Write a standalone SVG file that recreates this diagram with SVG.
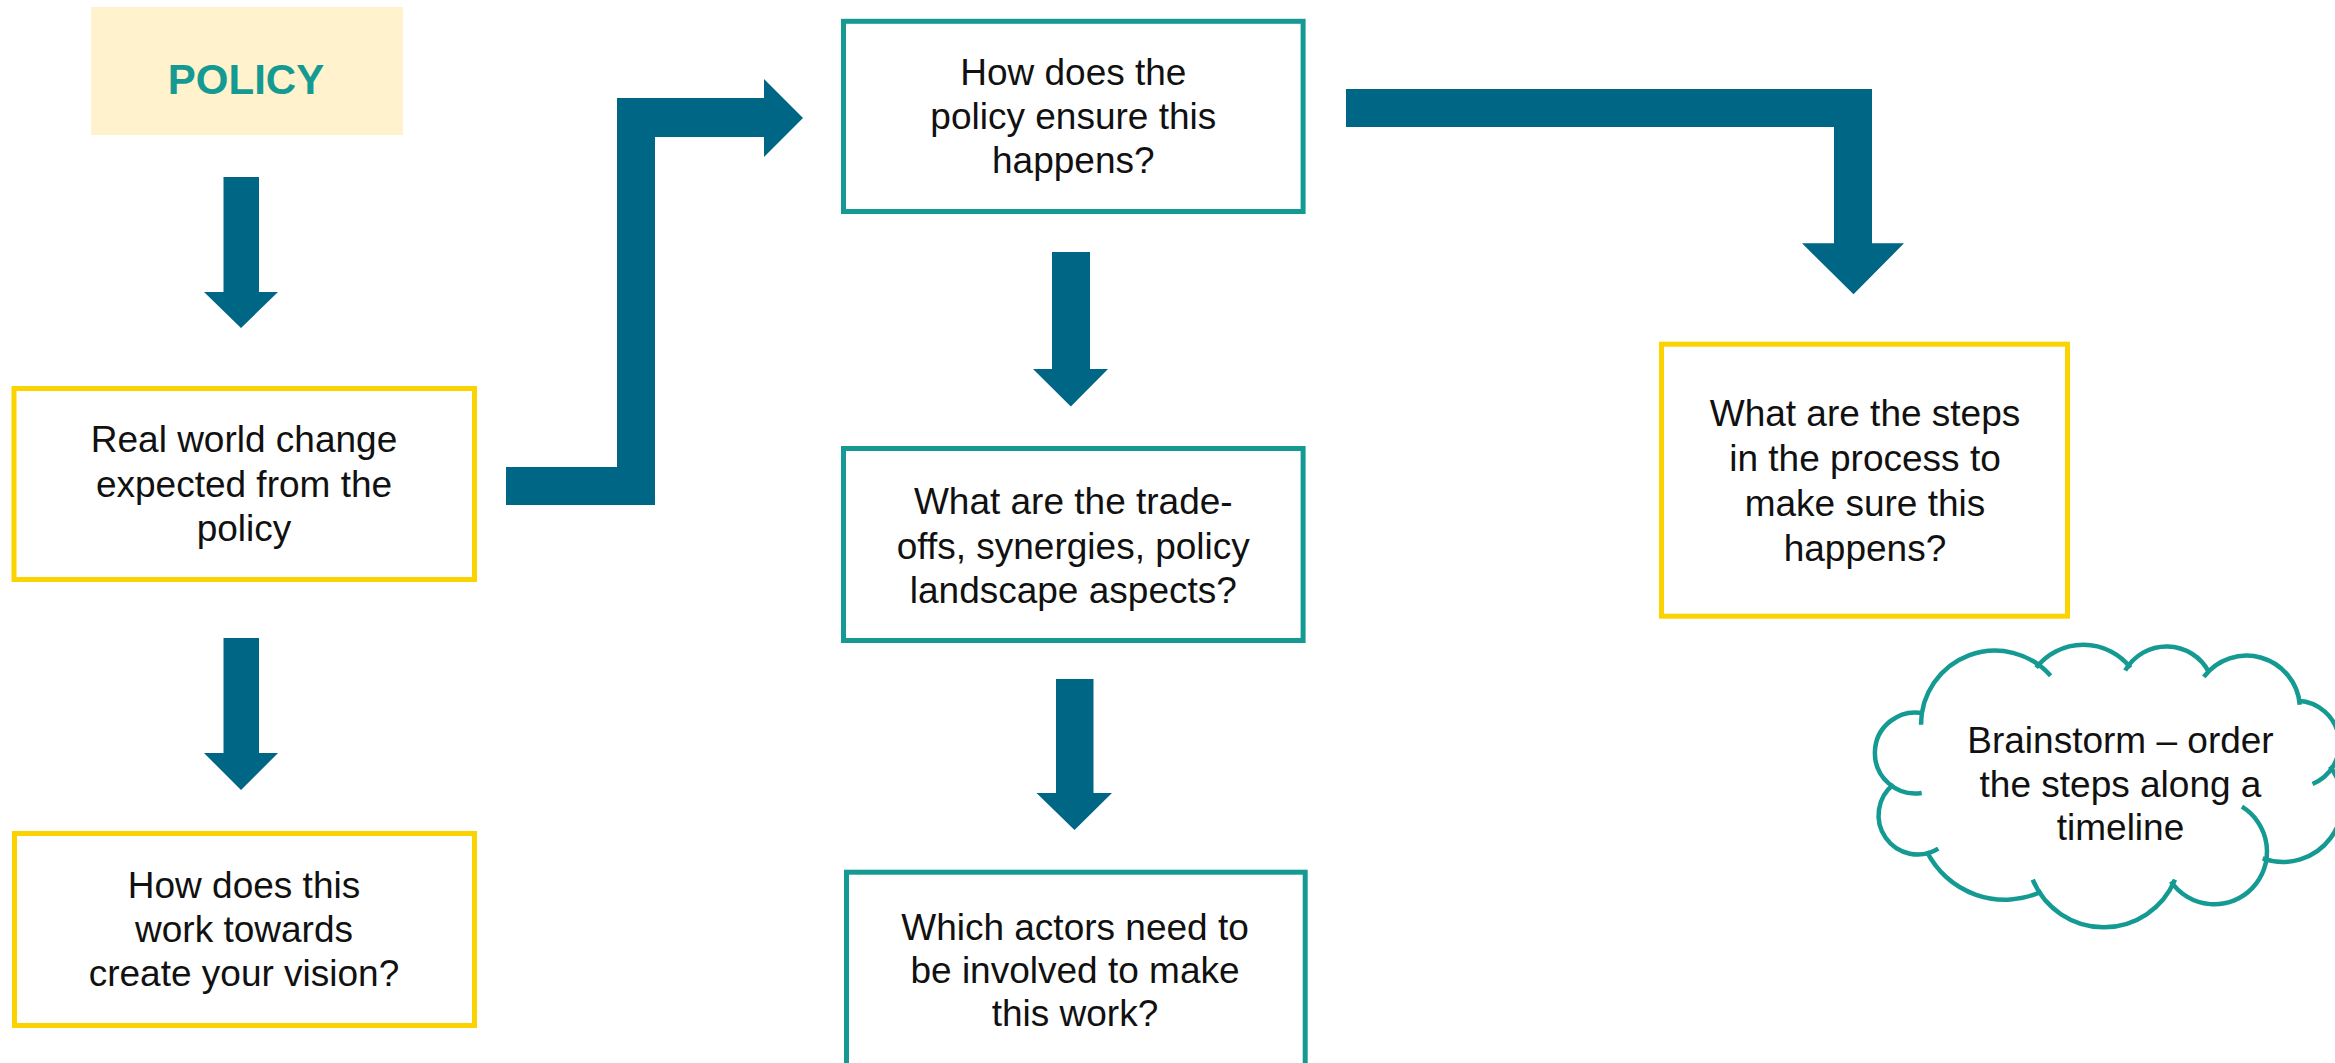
<svg xmlns="http://www.w3.org/2000/svg" width="2335" height="1063" viewBox="0 0 2335 1063">
<style>
.box{fill:#FFFFFF;stroke-width:5}
.yb{stroke:#FBD300}
.tb{stroke:#149A92}
.t{font-family:"Liberation Sans",Arial,sans-serif;font-size:37px;fill:#111111;text-anchor:middle}
.arrow{fill:#006685;stroke:none}
.cloud{fill:none;stroke:#149A92;stroke-width:4.5}
</style>
<rect width="2335" height="1063" fill="#FFFFFF"/>
<g id="connectors">
<path class="arrow" d="M223.5,177 H259 V292 H278 L241,328 L204,292 H223.5 Z"/>
<path class="arrow" d="M223.5,638 H259 V753 H278 L241,790 L204,753 H223.5 Z"/>
<path class="arrow" d="M506,467 H617 V98 H764 V79 L803,118 L764,157 V137 H655 V505 H506 Z"/>
<path class="arrow" d="M1052,252 H1090 V369 H1108 L1070.8,406.5 L1033,369 H1052 Z"/>
<path class="arrow" d="M1056,679 H1093.5 V793 H1112 L1074.5,830 L1036.5,793 H1056 Z"/>
<path class="arrow" d="M1346,89 H1872 V243.3 H1904 L1853.5,294.3 L1802,243.3 H1834 V127 H1346 Z"/>
</g>
<g id="node-policy">
<rect x="91" y="7" width="312" height="128" fill="#FFF2CC"/>
<text x="246" y="94" font-family="Liberation Sans, Arial, sans-serif" font-size="42" font-weight="bold" fill="#149A92" text-anchor="middle">POLICY</text>
</g>
<g id="node-realworld">
<rect class="box yb" x="14" y="388.5" width="460.5" height="191"/>
<text class="t"><tspan x="244" y="452">Real world change</tspan><tspan x="244" y="497">expected from the</tspan><tspan x="244" y="541">policy</tspan></text>
</g>
<g id="node-vision">
<rect class="box yb" x="14.5" y="833.5" width="460" height="192"/>
<text class="t"><tspan x="244" y="898">How does this</tspan><tspan x="244" y="942">work towards</tspan><tspan x="244" y="986">create your vision?</tspan></text>
</g>
<g id="node-ensure">
<rect class="box tb" x="843.5" y="21.3" width="459.6" height="190.2"/>
<text class="t"><tspan x="1073.3" y="85">How does the</tspan><tspan x="1073.3" y="129">policy ensure this</tspan><tspan x="1073.3" y="173">happens?</tspan></text>
</g>
<g id="node-tradeoffs">
<rect class="box tb" x="843.5" y="448.5" width="459.6" height="192"/>
<text class="t"><tspan x="1073.3" y="514">What are the trade-</tspan><tspan x="1073.3" y="558.5">offs, synergies, policy</tspan><tspan x="1073.3" y="603">landscape aspects?</tspan></text>
</g>
<g id="node-actors">
<rect class="box tb" x="846.5" y="872.2" width="458.7" height="200"/>
<text class="t"><tspan x="1075" y="939.5">Which actors need to</tspan><tspan x="1075" y="983">be involved to make</tspan><tspan x="1075" y="1026">this work?</tspan></text>
</g>
<g id="node-steps">
<rect class="box yb" x="1661.5" y="344.2" width="406" height="272"/>
<text class="t"><tspan x="1865" y="426">What are the steps</tspan><tspan x="1865" y="471">in the process to</tspan><tspan x="1865" y="516">make sure this</tspan><tspan x="1865" y="561">happens?</tspan></text>
</g>
<g id="node-cloud">
<path class="cloud" d="M1923.9,713.4 A40.5,40.5 0 1 0 1921.7,793"/>
<path class="cloud" d="M1893.4,784.6 A39.2,39.2 0 0 0 1938.3,848.7"/>
<path class="cloud" d="M1926.7,851.3 A87.3,87.3 0 0 0 2041.7,891.5"/>
<path class="cloud" d="M2032.7,879.7 A77,77 0 0 0 2175,879.7"/>
<path class="cloud" d="M2170.9,881.5 A52.7,52.7 0 1 0 2241.9,806.7"/>
<path class="cloud" d="M2329.9,766.4 A59.3,59.3 0 0 1 2262.7,858.4"/>
<path class="cloud" d="M2298.3,700.7 A43.3,43.3 0 0 1 2312.5,784"/>
<path class="cloud" d="M2203.8,676.9 A53.5,53.5 0 0 1 2299.8,704.7"/>
<path class="cloud" d="M2125.2,670.5 A47.7,47.7 0 0 1 2209.1,672.4"/>
<path class="cloud" d="M2036.1,667.7 A60,60 0 0 1 2130.6,667.7"/>
<path class="cloud" d="M1921,724.7 A74,74 0 0 1 2050.6,675.8"/>
<text class="t"><tspan x="2120.5" y="753">Brainstorm – order</tspan><tspan x="2120.5" y="796.5">the steps along a</tspan><tspan x="2120.5" y="840">timeline</tspan></text>
</g>
</svg>
